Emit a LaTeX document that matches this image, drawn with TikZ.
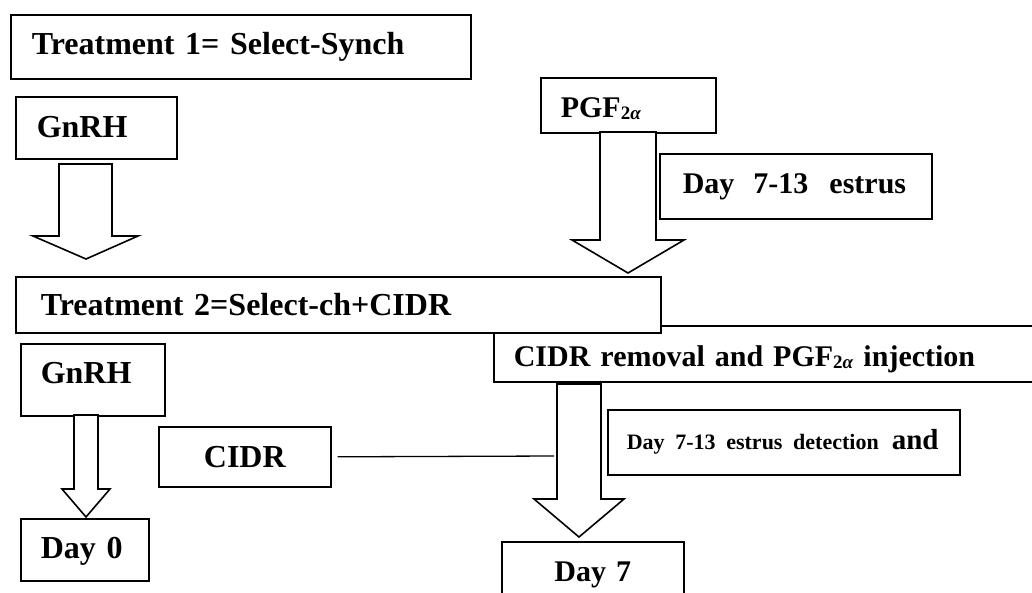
\documentclass[tikz,border=0pt]{standalone}
\usepackage{fontspec}
\setmainfont{Liberation Serif}
\newcommand{\bigf}{\fontsize{32}{36}\selectfont\bfseries}
\newcommand{\midf}{\fontsize{30}{34}\selectfont\bfseries}
\newcommand{\smallf}{\fontsize{22}{26}\selectfont\bfseries}
\newcommand{\pgfsub}{\raisebox{-2pt}{\fontsize{19}{19}\selectfont\bfseries 2\textit{α}}}
\begin{document}
\begin{tikzpicture}[x=1pt,y=-1pt,
  box/.style={draw, line width=1.6pt, fill=white, anchor=north west,
    inner ysep=0pt, align=left, text depth=4pt, font=\bigf},
  cbox/.style={box, align=center},
  blk/.style={draw, line width=1.6pt, fill=white, line join=miter},
  link/.style={draw, line width=1.3pt}]
\useasboundingbox (0,0) rectangle (1032,592);
\node[box, text width=418pt, inner xsep=21pt, minimum height=64pt, text height=20pt] (t1) at (10,14) {\mbox{Treatment 1= Select-Synch}};
\node[box, text width=119pt, inner xsep=21pt, minimum height=62pt, text height=24pt] (g1) at (15,96) {\mbox{GnRH}};
\node[box, font=\midf, text width=135pt, inner xsep=20pt, minimum height=55pt, text height=29pt] (pgf) at (540,77) {\mbox{PGF\pgfsub}};
\node[box, font=\midf, text width=226pt, inner xsep=23pt, minimum height=65pt, text height=19pt] (est) at (659,153) {\mbox{Day\hspace{19pt}7-13\hspace{21pt}estrus}};
\draw[blk] (59,164) -- (59,236) -- (33,236) -- (86,259) -- (138,236) -- (112,236) -- (112,164) -- cycle;
\draw[blk] (600,132) -- (600,240) -- (572,240) -- (628,273) -- (684,240) -- (656,240) -- (656,132) -- cycle;
\node[box, font=\midf, text width=520pt, inner xsep=20pt, minimum height=56pt, text height=30pt] (rem) at (493,325) {\mbox{CIDR removal and PGF\pgfsub{} injection}};
\node[box, text width=595pt, inner xsep=25pt, minimum height=56pt, text height=26pt] (t2) at (15,276) {\mbox{Treatment 2=Select-ch+CIDR}};
\draw[blk] (557,384) -- (557,499) -- (534,499) -- (579,537) -- (624,499) -- (601,499) -- (601,384) -- cycle;
\node[box, text width=314pt, inner xsep=19pt, minimum height=65pt, text height=19pt] (det) at (607,409) {\mbox{{\smallf Day 7-13 estrus detection}\hspace{13pt}{\fontsize{29}{34}\selectfont and}}};
\node[cbox, font=\midf, text width=142pt, inner xsep=20pt, minimum height=60pt, text height=24pt] (d7) at (501,541) {Day 7};
\node[box, text width=104pt, inner xsep=20pt, minimum height=72pt, text height=12pt] (g2) at (20,343) {\mbox{GnRH}};
\draw[blk] (74,415) -- (74,489) -- (62,489) -- (86,517) -- (110,489) -- (98,489) -- (98,415) -- cycle;
\node[box, text width=88pt, inner xsep=20pt, minimum height=62pt, text height=22pt] (d0) at (20,518) {\mbox{Day 0}};
\node[cbox, text width=132pt, inner xsep=20pt, minimum height=60pt, text height=26pt] (cidr) at (158,426) {CIDR};
\coordinate (cidrend) at (554,456);
\draw[link] ([xshift=6pt]cidr.east) -- (cidrend);
\end{tikzpicture}
\end{document}
